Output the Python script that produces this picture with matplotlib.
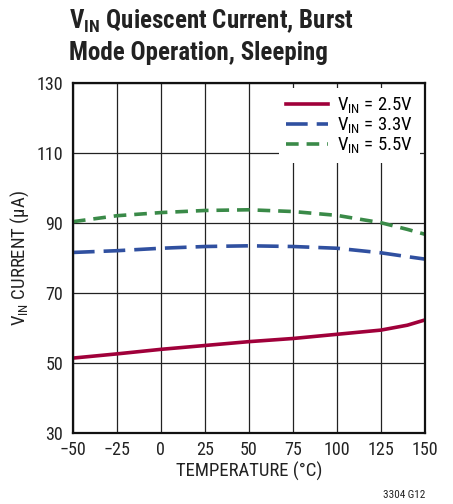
import numpy as np
import matplotlib
matplotlib.use('Agg')
import matplotlib.pyplot as plt
from matplotlib import font_manager

# narrow sans if there is one, the reference looks like Helvetica Condensed
names = set(f.name for f in font_manager.fontManager.ttflist)
fam = 'Liberation Sans'
for cand in ['Liberation Sans Narrow', 'Roboto Condensed', 'Open Sans Condensed']:
    if cand in names:
        fam = cand
        break
plt.rcParams['font.family'] = [fam, 'DejaVu Sans']
plt.rcParams['mathtext.fontset'] = 'custom'
plt.rcParams['mathtext.rm'] = fam
plt.rcParams['mathtext.it'] = fam
plt.rcParams['mathtext.bf'] = fam + ':bold'

temps = [-50, -25, 0, 25, 50, 75, 100, 125, 140, 150]
i_25 = [51.4, 52.6, 53.9, 55.0, 56.1, 57.0, 58.2, 59.4, 60.8, 62.3]
i_33 = [81.6, 82.1, 82.8, 83.3, 83.5, 83.3, 82.8, 81.5, 80.4, 79.7]
i_55 = [90.4, 92.1, 93.0, 93.6, 93.8, 93.3, 92.2, 90.1, 88.2, 86.8]

x_ticks = [-50, -25, 0, 25, 50, 75, 100, 125, 150]
x_labels = ['\u221250', '\u221225', '0', '25', '50', '75', '100', '125', '150']
y_ticks = [30, 50, 70, 90, 110, 130]

fig = plt.figure(figsize=(4.53, 5.04), dpi=100)
ax = fig.add_axes([0.161, 0.141, 0.777, 0.694])

ax.plot(temps, i_25, color='#a0003a', lw=2.6, label=r'V$_{\rm IN}$ = 2.5V')
ax.plot(temps, i_33, color='#3050a0', lw=2.6, dashes=(6, 2.5), label=r'V$_{\rm IN}$ = 3.3V')
ax.plot(temps, i_55, color='#3a8a48', lw=2.6, dashes=(3.5, 2.2), label=r'V$_{\rm IN}$ = 5.5V')

ax.set_xlim(-50, 150)
ax.set_ylim(30, 130)
ax.set_xticks(x_ticks)
ax.set_xticklabels(x_labels)
ax.set_yticks(y_ticks)
ax.grid(True, color='#222222', lw=0.9)
ax.set_axisbelow(True)
ax.tick_params(length=0, labelsize=13, colors='#222222')
ax.tick_params(axis='x', pad=6)
ax.tick_params(axis='y', pad=7)
for s in ax.spines.values():
    s.set_linewidth(1.6)
    s.set_color('#111111')

ax.set_xlabel('TEMPERATURE (\u00b0C)', fontsize=13.5, color='#222222', labelpad=2)
ax.set_ylabel('V$_{\\rm IN}$ CURRENT (\u00b5A)', fontsize=13.5, color='#222222', labelpad=4)

leg = ax.legend(loc='upper right', fontsize=13.5, frameon=True, handlelength=2.2,
                borderaxespad=0.25, labelspacing=0.0, handletextpad=0.5)
leg.get_frame().set_edgecolor('none')
leg.get_frame().set_facecolor('white')
leg.get_frame().set_alpha(1)

fig.text(0.153, 0.945, r'V$_{\bf IN}$ Quiescent Current, Burst', fontsize=18,
         fontweight='bold', color='#222222', va='baseline')
fig.text(0.153, 0.881, 'Mode Operation, Sleeping', fontsize=18,
         fontweight='bold', color='#222222', va='baseline')
fig.text(0.94, 0.012, '3304 G12', fontsize=8, ha='right', color='#222222')

fig.savefig('out.png', dpi=100)
